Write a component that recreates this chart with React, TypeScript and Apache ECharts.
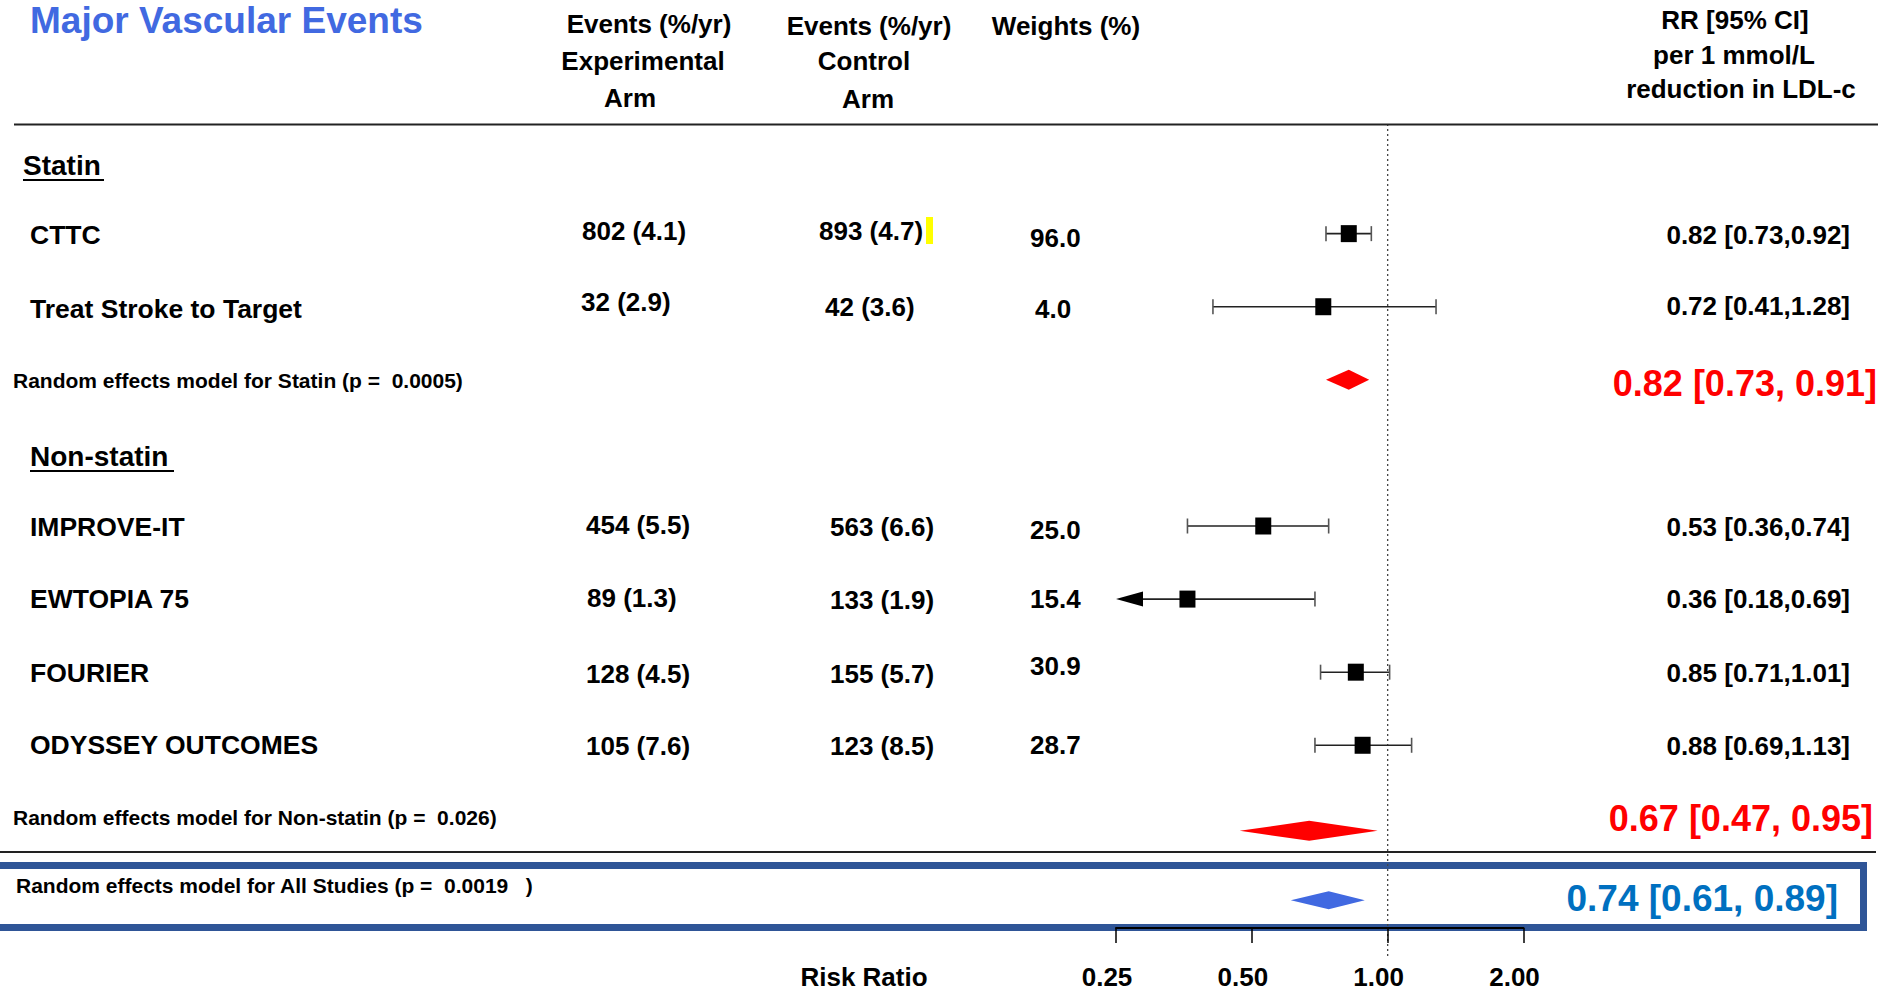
import React, { useEffect, useRef } from "react";
import * as echarts from "echarts";

// ---------- data ----------
const studyNames = ["CTTC", "Treat Stroke to Target", "IMPROVE-IT", "EWTOPIA 75", "FOURIER", "ODYSSEY OUTCOMES"];
const studyRows = [1.5, 2.5, 5.5, 6.5, 7.5, 8.5];
const studyRR = [0.82, 0.72, 0.53, 0.36, 0.85, 0.88];
const studyLow = [0.73, 0.41, 0.36, 0.18, 0.71, 0.69];
const studyHigh = [0.92, 1.28, 0.74, 0.69, 1.01, 1.13];
const expArm = ["802 (4.1)", "32 (2.9)", "454 (5.5)", "89 (1.3)", "128 (4.5)", "105 (7.6)"];
const ctrlArm = ["893 (4.7)", "42 (3.6)", "563 (6.6)", "133 (1.9)", "155 (5.7)", "123 (8.5)"];
const weights = ["96.0", "4.0", "25.0", "15.4", "30.9", "28.7"];

const pooledLabels = [
  "Random effects model for Statin (p =  0.0005)",
  "Random effects model for Non-statin (p =  0.026)",
  "Random effects model for All Studies (p =  0.0019   )",
];
const pooledRows = [3.5, 9.67, 10.62];
const pooledRR = [0.82, 0.67, 0.74];
const pooledLow = [0.73, 0.47, 0.61];
const pooledHigh = [0.91, 0.95, 0.89];

const groupNames = ["Statin", "Non-statin"];
const refValue = 1;
const xMinValue = 0.25;
const xMaxValue = 2;

const title = "Major Vascular Events";
const axisTitle = "Risk Ratio";

// ---------- layout / style ----------
const W = 1878;
const H = 993;
const FONT = "'Liberation Sans', Arial, Helvetica, sans-serif";
const labelY = [235, 309, 527, 599, 673, 745];
const expX = [582, 581, 586, 587, 586, 586];
const expY = [231, 302, 525, 598, 674, 746];
const ctrlX = [819, 825, 830, 830, 830, 830];
const ctrlY = [231, 307, 527, 600, 674, 746];
const wX = [1030, 1035, 1030, 1030, 1030, 1030];
const wY = [238, 309, 530, 599, 666, 745];
const ciY = [235, 306, 527, 599, 673, 746];
const pooledLabelPos = [[13, 380], [13, 817], [16, 885]];
const pooledTextPos = [[1877, 383], [1873, 818], [1838, 898]];
const pooledTextSize = [36, 36, 37];
const pooledColors = ["#FF0000", "#FF0000", "#4169E1"];
const pooledTextColors = ["#FF0000", "#FF0000", "#0070C0"];
const pooledHeights = [20, 20, 18];
const groupPos = [[23, 165, 81, 180], [30, 456, 144, 471]];

function txt(text: string, x: number, y: number, o: any = {}) {
  return {
    type: "text",
    z: 5,
    style: {
      text,
      x,
      y,
      fill: o.color || "#000",
      fontSize: o.size || 26,
      fontWeight: "bold",
      fontFamily: FONT,
      align: o.align || "left",
      verticalAlign: "middle",
      textAlign: o.align || "left",
      textVerticalAlign: "middle",
    },
  };
}

function hline(x1: number, x2: number, y: number, color = "#222", w = 2) {
  return { type: "line", z: 3, shape: { x1, y1: y, x2, y2: y }, style: { stroke: color, lineWidth: w } };
}

export default function App() {
  const ref = useRef<HTMLDivElement>(null);

  useEffect(() => {
    document.body.style.margin = "0";
    document.body.style.overflow = "hidden";
    if (!ref.current) return;
    const chart = echarts.init(ref.current, undefined, { renderer: "svg" });

    const graphics: any[] = [];
    graphics.push(txt(title, 30, 20, { size: 37, color: "#4169E1" }));
    // headers
    const headers: [string, number, number][] = [
      ["Events (%/yr)", 649, 24], ["Experimental", 643, 61], ["Arm", 630, 98],
      ["Events (%/yr)", 869, 26], ["Control", 864, 61], ["Arm", 868, 99],
      ["Weights (%)", 1066, 26],
      ["RR [95% CI]", 1735, 20], ["per 1 mmol/L", 1734, 55], ["reduction in LDL-c", 1741, 89],
    ];
    headers.forEach(([t, x, y]) => graphics.push(txt(t, x, y, { align: "center" })));
    graphics.push(hline(14, W, 124.5));
    graphics.push(hline(0, 1876, 852));

    groupNames.forEach((g, i) => {
      const [x, y, w, uy] = groupPos[i];
      graphics.push(txt(g, x, y, { size: 28 }));
      graphics.push({ type: "line", z: 5, shape: { x1: x, y1: uy, x2: x + w, y2: uy }, style: { stroke: "#000", lineWidth: 2 } });
    });

    studyNames.forEach((n, i) => {
      graphics.push(txt(n, 30, labelY[i], { size: 26.5 }));
      graphics.push(txt(expArm[i], expX[i], expY[i]));
      graphics.push(txt(ctrlArm[i], ctrlX[i], ctrlY[i]));
      graphics.push(txt(weights[i], wX[i], wY[i]));
      graphics.push(
        txt(`${studyRR[i].toFixed(2)} [${studyLow[i].toFixed(2)},${studyHigh[i].toFixed(2)}]`, 1850, ciY[i], { align: "right" })
      );
    });
    // yellow highlight mark
    graphics.push({ type: "rect", z: 4, shape: { x: 926, y: 217, width: 7, height: 27 }, style: { fill: "#FFFF00" } });

    pooledLabels.forEach((l, i) => {
      graphics.push(txt(l, pooledLabelPos[i][0], pooledLabelPos[i][1], { size: 21 }));
      graphics.push(
        txt(`${pooledRR[i].toFixed(2)} [${pooledLow[i].toFixed(2)}, ${pooledHigh[i].toFixed(2)}]`, pooledTextPos[i][0], pooledTextPos[i][1], {
          size: pooledTextSize[i],
          color: pooledTextColors[i],
          align: "right",
        })
      );
    });
    // blue box
    graphics.push({
      type: "rect",
      z: 1,
      shape: { x: -20, y: 865.5, width: 1883.5, height: 62 },
      style: { fill: "none", stroke: "#2F5597", lineWidth: 7 },
    });
    graphics.push(txt(axisTitle, 864, 977, { align: "center" }));

    const studyData = studyNames.map((_, i) => [studyRR[i], studyLow[i], studyHigh[i], studyRows[i]]);
    const pooledData = pooledRR.map((v, i) => [v, pooledLow[i], pooledHigh[i], pooledRows[i]]);

    const option: any = {
      animation: false,
      backgroundColor: "#fff",
      grid: { left: 1116, right: W - 1523.5, top: 124, bottom: H - 928, containLabel: false },
      xAxis: {
        type: "log",
        logBase: 2,
        min: xMinValue,
        max: xMaxValue,
        position: "bottom",
        z: 10,
        axisLine: { show: true, onZero: false, lineStyle: { color: "#000", width: 2 } },
        axisTick: { show: true, length: 15, lineStyle: { color: "#000", width: 1.5 } },
        splitLine: { show: false },
        axisLabel: {
          show: true,
          showMinLabel: true,
          showMaxLabel: true,
          margin: 36,
          padding: [0, 18, 0, 0],
          color: "#000",
          fontSize: 26,
          fontWeight: "bold",
          fontFamily: FONT,
          formatter: (v: number) => Number(v).toFixed(2),
        },
      },
      yAxis: { type: "value", inverse: true, min: 0, max: 11, show: false },
      graphic: { elements: graphics },
      series: [
        {
          type: "custom",
          name: "ref",
          clip: false,
          z: 1,
          data: [[refValue, 0, 11.41]],
          encode: { x: 0, y: [1, 2] },
          renderItem: (_p: any, api: any) => {
            const a = api.coord([api.value(0), api.value(1)]);
            const b = api.coord([api.value(0), api.value(2)]);
            return {
              type: "line",
              shape: { x1: a[0], y1: a[1], x2: b[0], y2: b[1] },
              style: { stroke: "#444", lineWidth: 1.3, lineDash: [2, 3] },
            };
          },
        },
        {
          type: "custom",
          name: "studies",
          clip: false,
          z: 3,
          data: studyData,
          encode: { x: [0, 1, 2], y: 3 },
          renderItem: (_p: any, api: any) => {
            const est = api.value(0);
            const lo = api.value(1);
            const hi = api.value(2);
            const row = api.value(3);
            const clipped = lo < xMinValue;
            const pe = api.coord([est, row]);
            const pl = api.coord([Math.max(lo, xMinValue), row]);
            const ph = api.coord([hi, row]);
            const children: any[] = [];
            children.push({
              type: "line",
              shape: { x1: clipped ? pl[0] + 20 : pl[0], y1: pl[1], x2: ph[0], y2: ph[1] },
              style: { stroke: "#222", lineWidth: 1.6 },
            });
            const cap = (x: number, y: number) => ({
              type: "line",
              shape: { x1: x, y1: y - 7.5, x2: x, y2: y + 7.5 },
              style: { stroke: "#555", lineWidth: 1.6 },
            });
            if (clipped) {
              children.push({
                type: "polygon",
                shape: { points: [[pl[0], pl[1]], [pl[0] + 27, pl[1] - 7.5], [pl[0] + 27, pl[1] + 7.5]] },
                style: { fill: "#000" },
              });
            } else {
              children.push(cap(pl[0], pl[1]));
            }
            children.push(cap(ph[0], ph[1]));
            children.push({
              type: "rect",
              shape: { x: pe[0] - 8, y: pe[1] - 8.5, width: 16, height: 17 },
              style: { fill: "#000" },
            });
            return { type: "group", children };
          },
        },
        {
          type: "custom",
          name: "pooled",
          clip: false,
          z: 3,
          data: pooledData,
          encode: { x: [0, 1, 2], y: 3 },
          renderItem: (p: any, api: any) => {
            const i = p.dataIndex;
            const row = api.value(3);
            const pe = api.coord([api.value(0), row]);
            const pl = api.coord([api.value(1), row]);
            const ph = api.coord([api.value(2), row]);
            const h = pooledHeights[i] / 2;
            return {
              type: "polygon",
              shape: { points: [[pl[0], pl[1]], [pe[0], pe[1] - h], [ph[0], ph[1]], [pe[0], pe[1] + h]] },
              style: { fill: pooledColors[i] },
            };
          },
        },
      ],
    };
    chart.setOption(option);
    return () => chart.dispose();
  }, []);

  return <div ref={ref} style={{ width: W, height: H }} />;
}
